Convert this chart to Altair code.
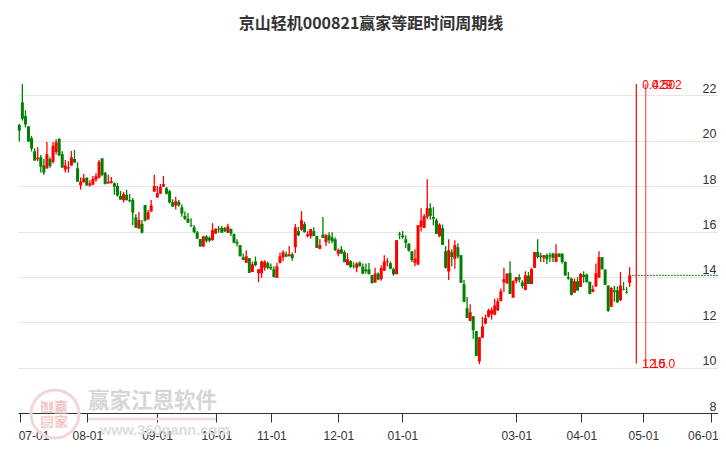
import altair as alt
import pandas as pd

opens = [20.70,21.70,21.09,20.64,20.12,19.54,19.19,19.28,18.92,18.78,19.20,19.07,19.51,20.09,19.41,18.73,18.78,18.91,19.20,18.79,
18.03,18.17,18.37,18.03,18.07,18.29,18.38,19.23,18.59,18.12,18.14,18.13,18.01,17.57,17.38,17.62,17.39,17.39,16.63,16.13,
16.34,17.17,16.53,16.88,17.76,17.50,17.67,17.98,17.91,17.78,17.29,17.15,17.31,17.07,16.69,16.56,16.29,16.19,15.97,15.67,
15.34,15.79,15.73,15.63,15.91,16.13,16.16,16.15,15.95,16.12,15.89,15.54,15.40,14.87,14.62,14.83,14.22,14.68,14.16,14.16,
14.41,14.61,14.44,14.34,13.96,14.62,14.86,15.00,14.91,15.00,15.31,16.02,16.08,16.33,15.80,15.80,16.02,15.80,15.24,15.87,
15.53,15.83,15.74,15.66,15.02,15.22,15.09,14.52,14.69,14.50,14.40,14.63,14.46,14.33,14.33,14.08,13.75,14.15,13.90,14.27,
14.65,14.61,14.34,14.12,15.90,15.83,15.66,15.47,15.13,14.62,14.55,16.21,16.16,16.65,17.03,16.64,16.50,15.80,16.15,15.13,
14.24,15.09,14.80,15.31,14.96,13.68,12.62,12.06,12.27,11.61,10.27,11.32,11.94,12.24,12.35,12.34,12.53,12.94,13.76,13.71,
14.18,13.09,13.81,13.99,13.76,13.43,14.06,13.69,14.40,15.10,14.94,14.84,14.96,14.96,15.03,14.66,15.03,15.03,14.66,14.00,
13.93,13.31,13.81,13.56,14.10,14.10,13.79,13.34,13.59,13.97,14.87,14.32,13.62,12.68,13.41,13.41,12.97,13.46,13.32,13.74]
closes = [20.45,20.97,20.72,19.97,19.66,19.13,19.25,18.86,18.60,19.41,18.89,19.78,19.94,19.35,18.82,18.92,18.84,19.28,19.04,18.20,
18.20,18.35,18.03,18.13,18.32,18.44,19.07,18.50,18.10,18.19,18.22,17.98,17.59,17.41,17.65,17.38,17.34,16.84,16.17,16.51,
15.95,16.48,16.85,17.16,18.01,17.69,17.97,18.09,17.67,17.28,17.10,17.34,17.15,16.79,16.56,16.39,16.26,15.98,15.69,15.34,
15.79,15.59,15.60,16.06,16.13,16.09,15.95,16.01,16.23,15.91,15.51,15.47,14.91,14.75,14.91,14.18,14.56,14.52,14.34,14.68,
14.68,14.39,14.37,14.00,14.47,14.91,15.09,14.90,15.00,14.83,16.19,15.84,16.50,15.97,15.88,16.11,15.80,15.28,15.40,15.72,
15.84,15.62,15.58,15.18,15.19,15.03,14.65,14.78,14.44,14.46,14.59,14.47,14.14,14.25,14.12,13.72,14.15,13.88,14.39,14.68,
14.69,14.36,14.12,15.62,15.86,15.75,15.50,15.16,14.74,14.81,16.28,16.49,16.68,17.03,16.69,16.56,15.90,16.31,15.41,14.40,
15.18,14.88,15.40,14.90,13.74,12.90,12.19,12.44,11.65,10.52,11.34,11.82,12.19,12.53,12.54,12.75,12.93,13.37,13.90,14.15,
13.25,13.82,13.99,13.88,13.60,14.07,13.69,14.34,15.10,14.88,14.88,14.96,14.78,14.90,14.84,15.03,14.88,14.66,14.06,13.93,
13.21,13.81,13.40,14.13,13.99,13.78,13.25,13.46,14.16,14.87,14.35,13.65,12.50,13.51,13.34,12.88,13.62,13.43,13.29,14.07]
highs = [20.75,22.51,21.35,20.64,20.22,19.67,19.72,19.38,19.20,19.95,19.28,19.95,20.07,20.12,19.54,19.16,19.10,19.56,19.60,19.06,
18.39,18.54,18.40,18.26,18.45,18.57,19.16,19.23,18.63,18.50,18.41,18.16,18.14,17.79,17.75,17.84,17.66,17.48,16.78,16.86,
16.51,17.17,16.95,17.39,18.50,18.01,18.10,18.45,17.97,17.84,17.42,17.53,17.39,17.19,16.89,16.82,16.59,16.29,16.03,15.67,
15.79,15.84,15.79,16.37,16.13,16.25,16.25,16.20,16.34,16.12,15.92,15.66,15.40,15.03,15.18,14.83,14.68,14.90,14.34,14.72,
14.74,14.68,14.59,14.47,14.63,15.08,15.18,15.12,15.36,15.08,16.33,16.21,16.90,16.43,16.02,16.11,16.19,15.80,15.66,16.64,
15.89,15.97,15.97,15.74,15.25,15.36,15.18,15.05,14.74,14.65,14.65,14.68,14.59,14.59,14.61,14.08,14.40,14.19,14.52,14.96,
14.83,14.68,14.41,15.62,15.99,16.02,15.83,15.49,15.13,15.22,16.28,17.03,16.77,18.31,17.25,17.08,16.58,16.37,16.31,15.36,
15.66,15.22,15.62,15.49,14.96,13.86,13.11,12.80,12.27,11.61,11.34,12.24,12.34,12.60,12.65,13.04,13.06,13.49,14.41,14.15,
14.69,13.85,13.99,14.12,13.85,14.25,14.22,14.40,15.10,15.66,15.07,14.96,15.03,15.07,15.07,15.44,15.03,15.03,14.69,14.22,
13.97,13.93,13.99,14.18,14.25,14.15,13.79,13.63,14.59,15.13,14.87,14.34,13.62,13.56,13.60,13.59,14.21,13.78,13.56,14.43]
lows = [19.97,20.89,20.59,19.97,19.53,19.13,19.10,18.60,18.51,18.78,18.81,19.00,19.40,19.35,18.81,18.60,18.60,18.91,19.04,18.20,
17.85,18.16,18.03,17.98,18.04,18.20,18.34,18.44,18.07,18.12,18.12,17.62,17.54,17.41,17.28,17.38,17.28,16.29,16.17,16.13,
15.91,16.44,16.53,16.88,17.76,17.50,17.66,17.97,17.63,17.25,17.09,16.97,17.09,16.65,16.51,16.38,16.20,15.91,15.67,15.34,
15.34,15.51,15.53,15.59,15.91,15.95,15.95,15.98,15.94,15.81,15.48,15.34,14.91,14.74,14.62,14.18,14.22,14.47,13.77,13.96,
14.27,14.34,14.30,13.97,13.96,14.59,14.69,14.87,14.91,14.71,15.06,15.80,16.03,15.96,15.74,15.68,15.80,15.27,15.22,15.72,
15.36,15.47,15.49,15.14,14.91,15.02,14.65,14.52,14.39,14.37,14.21,14.46,14.12,14.15,14.12,13.72,13.75,13.85,13.83,14.27,
14.46,14.34,14.05,14.12,15.66,15.68,15.27,15.11,14.66,14.47,14.52,16.00,16.15,16.55,16.52,16.28,15.89,15.75,15.41,14.37,
13.86,14.47,14.36,14.81,13.74,12.90,12.19,12.05,11.27,10.52,10.15,11.31,11.91,12.21,12.12,12.31,12.50,12.93,13.34,13.71,
13.25,13.07,13.71,13.75,13.49,13.41,13.69,13.68,14.40,14.81,14.66,14.66,14.57,14.66,14.66,14.66,14.88,14.59,14.06,13.88,
13.18,13.29,13.38,13.56,13.74,13.74,13.24,13.32,13.56,13.96,14.32,13.65,12.46,12.68,12.90,12.85,12.94,13.41,13.26,13.56]

tick_pos = [0.39,22.17,44.9,64.23,82.17,104.01,124.88,162.05,183.25,203.46,225.63]
tick_labels = ["07-01","08-01","09-01","10-01","11-01","12-01","01-01","03-01","04-01","05-01","06-01"]
price_ticks = [8,10,12,14,16,18,20,22]
cycle_pos = [201.17,204.24]
cycle_top = [22.51,22.51]
cycle_bottom = [10.18,10.07]
cycle_colors = ["#ff0000","#ff5050"]
top_labels = ["0.429","0.502"]
bottom_labels = ["12.5","10.0"]
last_price = 14.07
last_range = [199.7,227.8]
title_text = "京山轻机000821赢家等距时间周期线"

df = pd.DataFrame({"i":range(len(opens)),"o":opens,"c":closes,"h":highs,"l":lows})
df["col"] = ["r" if c>=o else "g" for o,c in zip(opens,closes)]

W, H = 700, 363
xs = alt.Scale(domain=[-0.424,227.8], nice=False, zero=False, padding=0)
ys = alt.Scale(domain=[8,24.006], nice=False, zero=False, padding=0)
colsc = alt.Scale(domain=["r","g"], range=["#ff0000","#008000"])
FONT = "Liberation Sans"
arr_v = "[" + ",".join(map(str,tick_pos)) + "]"
arr_l = "[" + ",".join("'%s'"%t for t in tick_labels) + "]"
xaxis = alt.Axis(values=tick_pos, labelExpr=f"{arr_l}[indexof({arr_v},datum.value)]", grid=False,
    domainColor="#333333", tickColor="#333333", tickSize=9, labelPadding=8, labelFontSize=12, labelFont=FONT,
    labelColor="#333333", labelOverlap=False, labelFlush=False, title=None,
    labelOffset=alt.expr("datum.value<1 ? 13 : datum.value>220 ? -8.5 : 0"))
yaxis = alt.Axis(values=price_ticks, orient="right", domain=False, ticks=False, gridColor="#e6e6e6", grid=True,
    labelAlign="right", labelBaseline="alphabetic", labelOffset=-3, labelPadding=-2, labelFontSize=12.5,
    labelFont=FONT, labelColor="#333333", title=None)

one = alt.Data(values=[{"a":1}])
def wm_text(t,x,y,size,color,weight="normal",font="Noto Sans CJK SC",align="center"):
    return alt.Chart(one).mark_text(text=t,fontSize=size,color=color,fontWeight=weight,font=font,align=align,baseline="middle").encode(
        x=alt.value(x-18),y=alt.value(y-50))
def wm_square(x,y,size,fill):
    return alt.Chart(one).mark_point(shape="square",size=size,filled=True,color=fill,opacity=1).encode(x=alt.value(x-18),y=alt.value(y-50))

wm = [
  alt.Chart(one).mark_point(shape="circle",size=2300,filled=False,color="#f3d6d6",strokeWidth=3,opacity=1).encode(x=alt.value(37),y=alt.value(364)),
  wm_square(47,407,150,"#f0cfcf"), wm_square(47,422,150,"#f0cfcf"),
  wm_square(61,407,170,"#faeeee"), wm_square(61,422,170,"#faeeee"),
  wm_text("江",47,407,12,"#fff8f8"), wm_text("恩",47,422,12,"#fff8f8"),
  wm_text("赢",61,407,13,"#eebcbc"), wm_text("家",61,422,13,"#eebcbc"),
  wm_text("赢家江恩软件",88,402,21.5,"#d6d6d6","bold",align="left"),
  alt.Chart(one).mark_rule(color="#ecdcdc",strokeWidth=2.5).encode(x=alt.value(70),x2=alt.value(198),y=alt.value(369)),
  wm_text("www.360gann.com",100,431,14.5,"#dddddd","bold","Liberation Sans",align="left"),
]

base = alt.Chart(df)
grid = alt.Chart(pd.DataFrame({"p":price_ticks})).mark_rule(opacity=0).encode(
    y=alt.Y("p:Q",scale=ys,axis=yaxis))
wick = base.mark_rule(strokeWidth=1.3).encode(
    x=alt.X("i:Q",scale=xs,axis=xaxis),
    y=alt.Y("l:Q",scale=ys), y2="h:Q",
    color=alt.Color("col:N",scale=colsc,legend=None))
body = base.mark_bar(size=3).encode(
    x=alt.X("i:Q",scale=xs),
    y=alt.Y("o:Q",scale=ys), y2="c:Q",
    color=alt.Color("col:N",scale=colsc,legend=None))
cyc = pd.DataFrame({"x":cycle_pos,"t":cycle_top,"b":cycle_bottom,"k":cycle_colors,"tl":top_labels,"bl":bottom_labels})
vlines = alt.Chart(cyc).mark_rule(strokeWidth=1.2).encode(
    x=alt.X("x:Q",scale=xs), y=alt.Y("b:Q",scale=ys), y2="t:Q", color=alt.Color("k:N",scale=None))
ttxt = alt.Chart(cyc).transform_calculate(ty="22.27").mark_text(align="left",baseline="alphabetic",dx=6,fontSize=12,font=FONT,color="#ff0000").encode(
    x=alt.X("x:Q",scale=xs), y=alt.Y("ty:Q",scale=ys), text="tl:N")
btxt = alt.Chart(cyc).transform_calculate(ty="10.0").mark_text(align="left",baseline="alphabetic",dx=6,fontSize=12,font=FONT,color="#ff0000").encode(
    x=alt.X("x:Q",scale=xs), y=alt.Y("ty:Q",scale=ys), text="bl:N")
pl = alt.Chart(pd.DataFrame({"x":last_range,"y":[last_price,last_price]})).mark_line(strokeWidth=1,color="#2c6e2c",strokeDash=[2,1]).encode(
    x=alt.X("x:Q",scale=xs), y=alt.Y("y:Q",scale=ys))

chart = alt.layer(grid,*wm,wick,body,pl,vlines,ttxt,btxt).resolve_scale(color="independent").properties(
    width=W,height=H,
    autosize=alt.AutoSizeParams(type="none"),
    padding={"left":10,"top":42,"right":0,"bottom":29},
    background="white",
    title=alt.TitleParams(title_text,anchor="middle",fontSize=16,font="Noto Sans CJK SC",fontWeight="bold",color="#333333",offset=18,dx=3),
).configure_view(stroke=None)

chart.save("out.html", embed_options={"renderer": "svg", "actions": False})
